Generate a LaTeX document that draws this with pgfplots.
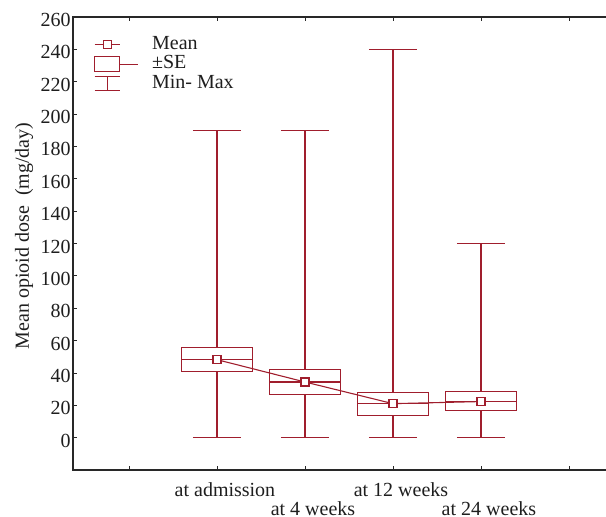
\documentclass[border=0pt]{standalone}
\usepackage{pgfplots}
\pgfplotsset{compat=1.18}
\usepgfplotslibrary{statistics}
\usepackage{fontspec}
\setmainfont{Liberation Serif}
\definecolor{cR}{RGB}{160,30,45}
\definecolor{axc}{RGB}{40,40,40}
\definecolor{txt}{RGB}{30,30,30}
\begin{document}
\begin{tikzpicture}
\begin{axis}[
  name=ax,
  scale only axis, width=273.5pt, height=226.5pt,
  xmin=-0.636, xmax=5.58, ymin=-20, ymax=260,
  boxplot/draw direction=y,
  xtick={0,1,3,5}, xticklabels={{},{at admission},{at 12 weeks},{}},
  extra x ticks={2,4}, extra x tick labels={{at 4 weeks},{at 24 weeks}},
  extra x tick style={xticklabel style={yshift=-9.5pt}},
  ytick={0,20,...,260},
  tick align=inside, major tick length=2pt,
  tick style={axc, line width=0.4pt},
  axis line style={axc, line width=0.6pt},
  /pgf/number format/assume math mode=true,
  tick label style={font=\fontsize{10}{12}\selectfont, text=txt},
  yticklabel style={inner sep=0pt, xshift=-1pt, yshift=-1.5pt},
  xticklabel style={inner sep=0pt, anchor=north, yshift=-6pt, xshift=4pt},
  ylabel={Mean opioid dose \ (mg/day)},
  ylabel style={font=\fontsize{10}{12}\selectfont, text=txt, at={(axis description cs:-0.0896,0.517)}, anchor=center},
  legend style={draw=none, fill=none, inner sep=0pt, outer sep=0pt,
    at={(axis description cs:0.0384,0.960)}, anchor=north west,
    font=\fontsize{10}{12}\selectfont, text=txt, row sep=0pt, column sep=7pt,
    nodes={inner sep=0pt, text height=7pt, text depth=2.75pt}},
  legend cell align=left,
]
\addlegendimage{cR, line width=0.55pt, legend image code/.code={\draw[cR, line width=0.55pt] (0pt,0pt) -- (12.5pt,0pt); \draw[cR,line width=0.55pt,fill=white] (4.25pt,-2pt) rectangle (8.25pt,2pt); \draw[draw=none] (0pt,0pt) -- (21.5pt,0pt);}}
\addlegendentry{Mean}
\addlegendimage{cR, line width=0.55pt, legend image code/.code={\draw[cR, line width=0.55pt] (0pt,-3.75pt) rectangle (12.5pt,3.75pt); \draw[cR,line width=0.55pt] (12.5pt,0pt) -- (21.5pt,0pt);}}
\addlegendentry{±SE}
\addlegendimage{cR, line width=0.55pt, legend image code/.code={\draw[cR, line width=0.55pt] (0pt,3.5pt) -- (12.5pt,3.5pt) (6.25pt,3.5pt) -- (6.25pt,-3.5pt) (0pt,-3.5pt) -- (12.5pt,-3.5pt); \draw[draw=none] (0pt,0pt) -- (21.5pt,0pt);}}
\addlegendentry{Min- Max}

\addplot[forget plot, cR, line width=0.55pt, boxplot prepared={draw position=1, lower whisker=0, lower quartile=40.8, median=48.2, upper quartile=55.6, upper whisker=190, box extend=0.8, whisker extend=0.55}] coordinates {};
\addplot[forget plot, cR, line width=0.55pt, boxplot prepared={draw position=2, lower whisker=0, lower quartile=26.4, median=34.4, upper quartile=42.0, upper whisker=190, box extend=0.8, whisker extend=0.55}] coordinates {};
\addplot[forget plot, cR, line width=0.55pt, boxplot prepared={draw position=3, lower whisker=0, lower quartile=13.8, median=21.0, upper quartile=28.1, upper whisker=240, box extend=0.8, whisker extend=0.55}] coordinates {};
\addplot[forget plot, cR, line width=0.55pt, boxplot prepared={draw position=4, lower whisker=0, lower quartile=16.5, median=22.3, upper quartile=28.3, upper whisker=120, box extend=0.8, whisker extend=0.55}] coordinates {};
\addplot[forget plot, cR, line width=0.55pt, mark=square*, mark size=2pt, mark options={fill=white, solid}] coordinates {(1,48.2) (2,34.4) (3,21.0) (4,22.3)};
\end{axis}
\pgfresetboundingbox
\path ([shift={(-36.5pt,-23.5pt)}]ax.south west) rectangle ([shift={(266.5pt,235pt)}]ax.south west);
\end{tikzpicture}
\end{document}
